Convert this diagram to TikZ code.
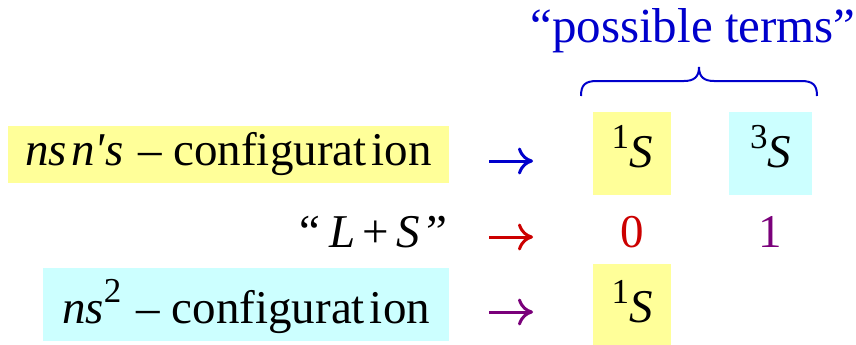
\documentclass[tikz,border=0pt]{standalone}
\usepackage{fontspec}
\setmainfont{Liberation Serif}[Ligatures=TeXOff]
\usetikzlibrary{arrows.meta}
\definecolor{boxyellow}{HTML}{FFFF99}
\definecolor{boxcyan}{HTML}{CCFFFF}
\definecolor{myblue}{HTML}{0000CC}
\definecolor{myred}{HTML}{CC0000}
\definecolor{mypurple}{HTML}{7A007A}
\newcommand{\bigfont}{\fontsize{47}{56}\selectfont}
\newcommand{\titlefont}{\fontsize{49}{58}\selectfont}
\newcommand{\supfont}{\fontsize{35}{40}\selectfont}
\newcommand{\termS}[1]{\raisebox{19pt}{\supfont #1}\textit{S}}
\begin{document}
\begin{tikzpicture}[x=1pt,y=-1pt,
  every node/.style={font=\bigfont, inner sep=0pt, outer sep=0pt},
  yellowbox/.style={fill=boxyellow},
  cyanbox/.style={fill=boxcyan},
  gaparrow/.style={line width=3pt, -{Computer Modern Rightarrow[length=15pt,width=27pt,line width=3pt]}},
  bracestyle/.style={draw=myblue, line width=2pt}]
\useasboundingbox (0,0) rectangle (856,345);

% title and brace
\node[anchor=base, text=myblue, font=\titlefont] (pt) at (693,43) {“possible terms”};
\draw[bracestyle] (581,96) .. controls (581,85) and (585,81) .. (597,81) -- (684,81)
  .. controls (694,81) and (699,77) .. (699,67)
  .. controls (699,77) and (704,81) .. (714,81) -- (801,81)
  .. controls (813,81) and (817,85) .. (817,96);

% row 1
\node[yellowbox, minimum width=441pt, text height=39pt, text depth=18pt, anchor=base] (cfg1) at (228.5,165)
  {\textit{ns\hspace{4pt}n'\hspace{1pt}s}\hspace{15pt}–\hspace{11pt}configurat\hspace{5pt}ion};
\node[yellowbox, minimum width=78pt, text height=55pt, text depth=28pt, anchor=base] (t1) at (632,167) {\termS{1}};
\node[cyanbox, minimum width=83pt, text height=55pt, text depth=28pt, anchor=base] (t3) at (770.5,167) {\termS{3}};

% row 2
\node[anchor=base east] (ls) at (447,247)
  {“\hspace{10pt}\textit{L}\hspace{6pt}+\hspace{8pt}\textit{S}\hspace{6pt}”};
\node[anchor=base, text=myred] (zero) at (632,247) {0};
\node[anchor=base, text=mypurple] (one) at (770,247) {1};

% row 3
\node[cyanbox, minimum width=406pt, text height=55pt, text depth=18pt, anchor=base] (cfg2) at (246,323)
  {\textit{ns}\raisebox{21pt}{\supfont 2}\hspace{15pt}–\hspace{12pt}configurat\hspace{5pt}ion};
\node[yellowbox, minimum width=78pt, text height=58pt, text depth=23pt, anchor=base] (t1b) at (632,322) {\termS{1}};

% arrows
\coordinate (a1s) at (489,161); \coordinate (a1e) at (533,161);
\coordinate (a2s) at (489,237); \coordinate (a2e) at (533,237);
\coordinate (a3s) at (489,312); \coordinate (a3e) at (533,312);
\draw[gaparrow, myblue] (a1s) -- (a1e);
\draw[gaparrow, myred] (a2s) -- (a2e);
\draw[gaparrow, mypurple] (a3s) -- (a3e);
\end{tikzpicture}
\end{document}
